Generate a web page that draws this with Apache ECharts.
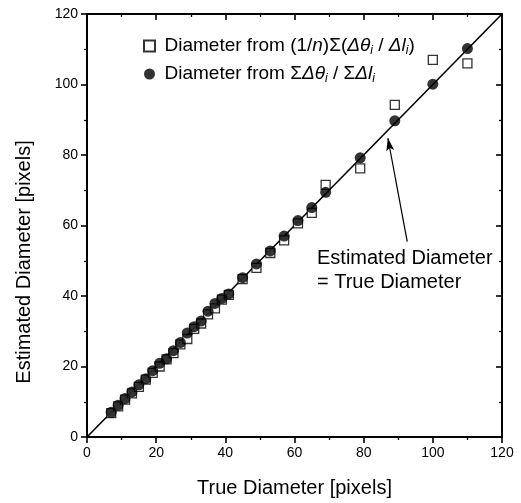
<!DOCTYPE html>
<html>
<head>
<meta charset="utf-8">
<script src="https://cdn.jsdelivr.net/npm/echarts@6/dist/echarts.min.js"></script>
<style>html,body{margin:0;padding:0;background:#fff}#c{width:521px;height:503px}</style>
</head>
<body>
<div id="c"></div>
<script>
var trueDiam = [7, 9, 11, 13, 15, 17, 19, 21, 23, 25, 27, 29, 31, 33, 35, 37, 39, 41, 45, 49, 53, 57, 61, 65, 69, 79, 89, 100, 110];
var estSum = [7.0, 9.0, 10.9, 12.8, 14.8, 16.5, 18.8, 20.9, 22.2, 24.5, 26.8, 29.5, 31.3, 32.9, 35.7, 37.9, 39.3, 40.6, 45.2, 49.1, 52.8, 57.0, 61.4, 65.1, 69.4, 79.2, 89.7, 100.1, 110.2];
var estMean = [6.8, 8.7, 10.6, 12.4, 14.2, 16.3, 18.2, 20.0, 22.0, 23.8, 26.3, 27.8, 30.7, 32.2, 34.8, 36.5, 39.0, 40.3, 44.8, 48.0, 52.2, 55.8, 60.6, 63.6, 71.5, 76.2, 94.2, 107.0, 106.0];
var identityLine = [0, 120];
var arrowFrom = [92.6, 55.4];
var arrowTo = [87.0, 84.8];

var F = '"Liberation Sans", Arial, Helvetica, sans-serif';
var chart = echarts.init(document.getElementById('c'), null, {renderer: 'canvas'});

function pairs(xs, ys) { return xs.map(function (x, i) { return [x, ys[i]]; }); }

var rich = {
  a: {fontFamily: F, fontSize: 19, color: '#000', lineHeight: 24},
  i: {fontFamily: F, fontSize: 19, fontStyle: 'italic', color: '#000', lineHeight: 24},
  s: {fontFamily: F, fontSize: 12, fontStyle: 'italic', color: '#000', lineHeight: 24, padding: [10, 0, 0, 0]}
};

function axisBase() {
  return {
    min: 0, max: 120, interval: 20,
    axisLine: {show: true, onZero: false, lineStyle: {color: '#000', width: 2}},
    splitLine: {show: false},
    minorTick: {show: true, splitNumber: 2, length: 3, lineStyle: {color: '#000', width: 1.3}},
    axisTick: {show: true, length: 6, lineStyle: {color: '#000', width: 1.6}}
  };
}
function mirror(pos) {
  var a = axisBase();
  a.type = 'value';
  a.position = pos;
  a.axisLabel = {show: false};
  a.axisTick.inside = true;
  a.minorTick.inside = true;
  return a;
}

var xMain = axisBase();
xMain.type = 'value'; xMain.position = 'bottom';
xMain.name = 'True Diameter [pixels]'; xMain.nameLocation = 'middle'; xMain.nameGap = 41;
xMain.nameTextStyle = {fontFamily: F, fontSize: 20, color: '#000'};
xMain.axisLabel = {fontFamily: F, fontSize: 14, color: '#000', margin: 9};

var yMain = axisBase();
yMain.type = 'value'; yMain.position = 'left';
yMain.axisLabel = {fontFamily: F, fontSize: 14, color: '#000', margin: 9};

chart.setOption({
  backgroundColor: '#fff',
  animation: false,
  grid: {left: 87, right: 19, top: 14, bottom: 66},
  legend: {
    left: 138, top: 30, orient: 'vertical', itemGap: 6, itemWidth: 20, itemHeight: 11,
    symbolKeepAspect: true,
    data: [
      {name: 'mean', icon: 'path://M0,0H10V10H0Z'},
      {name: 'sum', icon: 'circle'}
    ],
    formatter: function (n) {
      if (n === 'mean') return '{a|Diameter from (1/}{i|n}{a|)Σ(}{i|Δθ}{s|i}{a| / }{i|Δl}{s|i}{a|)}';
      return '{a|Diameter from Σ}{i|Δθ}{s|i}{a| / Σ}{i|Δl}{s|i}';
    },
    textStyle: {rich: rich}
  },
  xAxis: [xMain, mirror('top')],
  yAxis: [yMain, mirror('right')],
  series: [
    {
      name: 'identity', type: 'line', data: [[identityLine[0], identityLine[0]], [identityLine[1], identityLine[1]]],
      showSymbol: false, lineStyle: {color: '#000', width: 1.6}, silent: true, z: 1,
      markLine: {
        silent: true, symbol: ['none', 'arrow'], symbolSize: [6, 13],
        lineStyle: {color: '#000', width: 1.2, type: 'solid'}, label: {show: false},
        data: [[{coord: arrowFrom}, {coord: arrowTo}]]
      }
    },
    {
      name: 'mean', type: 'scatter', data: pairs(trueDiam, estMean),
      symbol: 'rect', symbolSize: 9,
      itemStyle: {color: '#fff', borderColor: '#000', borderWidth: 1.3}, z: 2
    },
    {
      name: 'sum', type: 'scatter', data: pairs(trueDiam, estSum),
      symbol: 'circle', symbolSize: 11,
      itemStyle: {color: '#000'}, z: 3
    }
  ],
  graphic: [
    {type: 'text', x: 24, y: 262, rotation: Math.PI / 2,
     style: {text: 'Estimated Diameter [pixels]', font: '20px ' + F, fill: '#000', align: 'center', verticalAlign: 'middle'}},
    {type: 'text', left: 317, top: 248, style: {text: 'Estimated Diameter', font: '20px ' + F, fill: '#000'}},
    {type: 'text', left: 317, top: 272, style: {text: '= True Diameter', font: '20px ' + F, fill: '#000'}}
  ]
});
</script>
</body>
</html>
